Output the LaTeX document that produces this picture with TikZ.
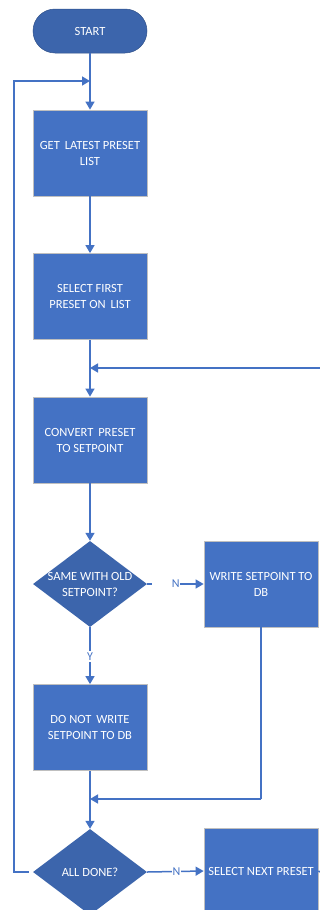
\documentclass[tikz,border=0pt]{standalone}
\usepackage{fontspec}
\setmainfont{Carlito}
\usetikzlibrary{arrows.meta,shapes.geometric}
\definecolor{boxblue}{HTML}{4472C4}
\definecolor{darkblue}{HTML}{3C65AC}
\definecolor{edgegrey}{HTML}{BFBFBF}
\begin{document}
\begin{tikzpicture}[x=1pt,y=-1pt,
  txt/.style={text=white,font=\fontsize{12.5}{16}\selectfont,align=center},
  process/.style={txt,rectangle,fill=boxblue,draw=edgegrey,line width=0.8pt,
    minimum width=114pt,minimum height=86pt,inner sep=1pt},
  terminal/.style={txt,rectangle,rounded corners=22pt,fill=darkblue,draw=darkblue!80!black,
    line width=0.5pt,minimum width=114pt,minimum height=44pt},
  decision/.style={diamond,fill=darkblue,draw=none,inner sep=0pt,
    minimum width=114pt,minimum height=86pt},
  flow/.style={draw=boxblue,line width=1.5pt},
  arr/.style={flow,-{Triangle[length=8pt,width=9pt]}},
  lbl/.style={fill=white,text=boxblue,font=\fontsize{12}{14}\selectfont,inner sep=1.5pt}]
\useasboundingbox (0,0) rectangle (320,910);
\clip (0,0) rectangle (320,910);
\fill[white] (0,0) rectangle (320,910);

% nodes
\node[terminal] (start) at (90,31) {START};
\node[process] (get) at (90,153) {GET \,LATEST PRESET\\LIST};
\node[process] (sel) at (90,296.5) {SELECT FIRST\\PRESET ON \,LIST};
\node[process] (conv) at (90,440) {CONVERT \,PRESET\\TO SETPOINT};
\node[decision] (same) at (90,584) {};
\node[txt] (sametxt) at (same.center) {SAME WITH OLD\\SETPOINT?};
\node[process] (write) at (261,584) {WRITE SETPOINT TO\\DB};
\node[process] (skip) at (90,727.5) {DO NOT \,WRITE\\SETPOINT TO DB};
\node[decision] (done) at (90,872) {};
\node[txt] (donetxt) at (done.center) {ALL DONE?};
\node[process] (next) at (261,871) {SELECT NEXT PRESET};

% junction points
\coordinate (loopin) at (90,81);
\coordinate (loopL) at (14,872);
\coordinate (loopT) at (14,81);
\coordinate (merge1) at (90,368);
\coordinate (edge1) at (320,368);
\coordinate (merge2) at (90,799);
\coordinate (wbend) at (261,799);
\coordinate (edge2) at (320,872);

% connectors
\draw[arr] (start.south) -- (get.north);
\draw[arr] (done.west) ++(-4,0) -- (loopL) -- (loopT) -- (loopin);
\draw[arr] (get.south) -- (sel.north);
\draw[flow] (sel.south) -- (merge1);
\draw[arr] (edge1) -- (merge1);
\draw[arr] (merge1) -- (conv.north);
\draw[arr] (conv.south) -- (same.north);
\draw[arr] (same.east) -- (write.west);
\node[lbl,minimum width=28pt,minimum height=13pt,inner sep=0pt,text width=27pt,align=right] (nlab1) at (166,584) {N};
\draw[arr] (same.south) -- node[lbl,pos=0.52] (ylab) {Y} (skip.north);
\draw[flow] (write.south) -- (wbend);
\draw[arr] (wbend) -- (merge2);
\draw[flow] (skip.south) -- (merge2);
\draw[arr] (merge2) -- (done.north);
\draw[arr] (done.east) -- node[lbl,pos=0.52,inner sep=0.5pt] (nlab2) {N} (next.west);
\draw[flow] (next.east) -- (edge2);
\end{tikzpicture}
\end{document}
